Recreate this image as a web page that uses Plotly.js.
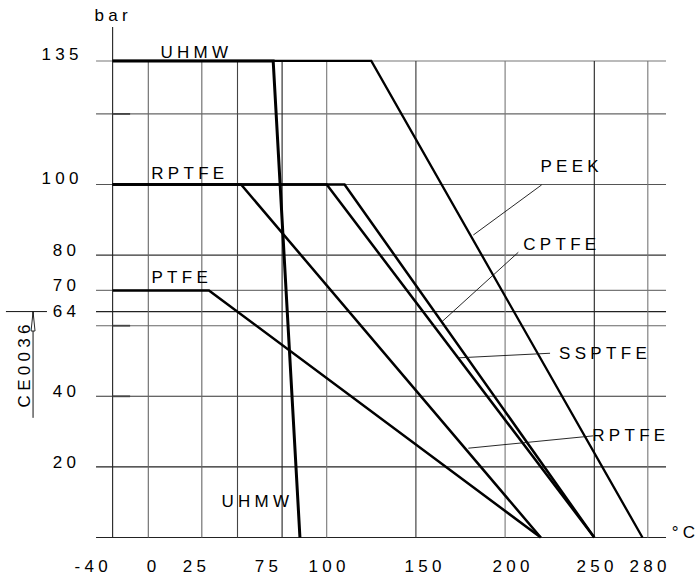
<!DOCTYPE html>
<html><head><meta charset="utf-8">
<script src="https://cdn.plot.ly/plotly-3.0.1.min.js"></script>
<style>
html,body{margin:0;padding:0;background:#fff;}
#chart{width:698px;height:581px;}
#chart text{letter-spacing:4.3px;}
</style></head><body><div id="chart"></div>
<script>
// ---- data: temperature (°C) / pressure (bar) rating curves ----
const uhmwT   = [-40, 70, 85],   uhmwP   = [135, 135, 0];
const peekT   = [-40, 125, 277], peekP   = [135, 135, 0];
const rptfeT  = [-40, 52, 220],  rptfeP  = [100, 100, 0];
const ssptfeT = [-40, 100, 250], ssptfeP = [100, 100, 0];
const cptfeT  = [-40, 110, 250], cptfeP  = [100, 100, 0];
const ptfeT   = [-40, 30, 220],  ptfeP   = [70, 70, 0];

// grid / ticks
const xGridT      = [-40, 0, 25, 50, 75, 100, 150, 200, 250, 280];
const xTickT      = [-40, 0, 25, 75, 100, 150, 200, 250, 280];
const xTickLabels = ['-40', '0', '25', '75', '100', '150', '200', '250', '280'];
const yGridP      = [0, 20, 40, 60, 64, 70, 80, 100, 120, 135];
const yTickP      = [135, 100, 80, 70, 64, 40, 20];
const yTickLabels = ['135', '100', '80', '70', '64', '40', '20'];

// The drawing's temperature axis is not uniform on the left side:
// map a temperature to its drawn position (identity from 50 °C on).
const brkT = [-40, 0, 25, 50], brkPos = [-20, 0, 30, 50];
function pos(t) {
  if (t >= 50) return t;
  for (let i = 0; i < brkT.length - 1; i++) {
    if (t <= brkT[i + 1]) {
      const f = (t - brkT[i]) / (brkT[i + 1] - brkT[i]);
      return brkPos[i] + f * (brkPos[i + 1] - brkPos[i]);
    }
  }
  return t;
}

// ---- styling ----
const vGridColor = ['#222', '#666', '#666', '#444', '#222', '#777', '#333', '#777', '#222', '#777'];
const hGridColor = ['#222', '#222', '#333', '#666', '#222', '#777', '#333', '#555', '#666', '#777'];
const xLabelShift = [-19.5, 5.5, -5.5, -13.5, 2.5, 9.5, 7.5, 2.5, 2.5];   // px offsets of the tick labels from their grid lines
const yLabelShift = [6, 6, 5, 5, 0, 5, 4];
const gridLeft = -29.3, gridRight = 290.2, axisTop = 144.6;

const shapes = [];
yGridP.forEach((p, i) => shapes.push({type: 'line', layer: 'below', xref: 'x', yref: 'y',
  x0: gridLeft, x1: gridRight, y0: p, y1: p, line: {color: hGridColor[i], width: 1.1}}));
xGridT.forEach((t, i) => shapes.push({type: 'line', layer: 'below', xref: 'x', yref: 'y',
  x0: pos(t), x1: pos(t), y0: 0, y1: i === 0 ? axisTop : 135, line: {color: vGridColor[i], width: 1.1}}));
[120, 60, 40].forEach(p => shapes.push({type: 'line', layer: 'below', xref: 'x', yref: 'y',
  x0: pos(-40), x1: -10.2, y0: p, y1: p, line: {color: '#444', width: 1.8}}));

// leader lines for the curve labels
const leaders = [
  [182.2, 85.7, 220.5, 99.9],
  [164.5, 61.1, 207.4, 80.8],
  [173.8, 50.9, 225.2, 52.2],
  [179.4, 25.3, 249.4, 28.8]
];
leaders.forEach(l => shapes.push({type: 'line', xref: 'x', yref: 'y',
  x0: l[0], y0: l[1], x1: l[2], y1: l[3], line: {color: '#111', width: 0.9}}));

// CE0036 marker
shapes.push({type: 'line', xref: 'x', yref: 'y', x0: -79.8, x1: -56.8, y0: 64, y1: 64, line: {color: '#111', width: 1}});
shapes.push({type: 'line', xref: 'x', yref: 'y', x0: -64.6, x1: -64.6, y0: 64, y1: 33.9, line: {color: '#111', width: 1}});
shapes.push({type: 'path', xref: 'x', yref: 'y', path: 'M -64.6 64 L -65.7 58.5 L -63.5 58.5 Z',
  line: {color: '#111', width: 0.9}, fillcolor: '#fff'});

const ann = [];
xTickT.forEach((t, i) => ann.push({x: pos(t), y: -8.3, xref: 'x', yref: 'y', text: xTickLabels[i],
  showarrow: false, xanchor: 'center', yanchor: 'middle', xshift: xLabelShift[i]}));
yTickP.forEach((p, i) => ann.push({x: -39.5, y: p, xref: 'x', yref: 'y', text: yTickLabels[i],
  showarrow: false, xanchor: 'right', yanchor: 'middle', yshift: yLabelShift[i]}));

const labels = [
  ['bar', -20.1, 148.0], ['UHMW', 26.2, 137.4], ['RPTFE', 22.8, 103.0], ['PTFE', 17.8, 73.8],
  ['UHMW', 60.4, 10.2], ['PEEK', 236.4, 105.0], ['CPTFE', 230.8, 83.0], ['SSPTFE', 254.9, 52.0],
  ['RPTFE', 270.0, 28.8]
];
labels.forEach(l => ann.push({x: l[1], y: l[2], xref: 'x', yref: 'y', text: l[0], showarrow: false,
  xanchor: 'center', yanchor: 'middle', xshift: 1.5}));
ann.push({x: 307.6, y: 1.3, xref: 'x', yref: 'y', text: '°C', showarrow: false,
  xanchor: 'right', yanchor: 'middle', xshift: 0});
ann.push({x: -69.4, y: 49.7, xref: 'x', yref: 'y', text: 'CE0036', showarrow: false, textangle: -90,
  xanchor: 'center', yanchor: 'middle', yshift: -2});

function curve(T, P, w) {
  return {x: T.map(pos), y: P, type: 'scatter', mode: 'lines', hoverinfo: 'skip',
    line: {color: '#000', width: w}, cliponaxis: false};
}
const traces = [
  curve(peekT, peekP, 2.3),
  curve(cptfeT, cptfeP, 2.5),
  curve(ssptfeT, ssptfeP, 2.5),
  curve(rptfeT, rptfeP, 2.5),
  curve(ptfeT, ptfeP, 2.5),
  curve(uhmwT, uhmwP, 3)
];

const layout = {
  width: 698, height: 581, margin: {l: 0, r: 0, t: 0, b: 0},
  paper_bgcolor: '#fff', plot_bgcolor: '#fff', showlegend: false,
  font: {family: '"Liberation Sans", Arial, sans-serif', size: 17, color: '#000'},
  xaxis: {range: [-83.13, 308.13], visible: false, fixedrange: true},
  yaxis: {range: [-12.32, 152.27], visible: false, fixedrange: true},
  shapes: shapes, annotations: ann
};
Plotly.newPlot('chart', traces, layout, {staticPlot: true, displayModeBar: false});
</script></body></html>
